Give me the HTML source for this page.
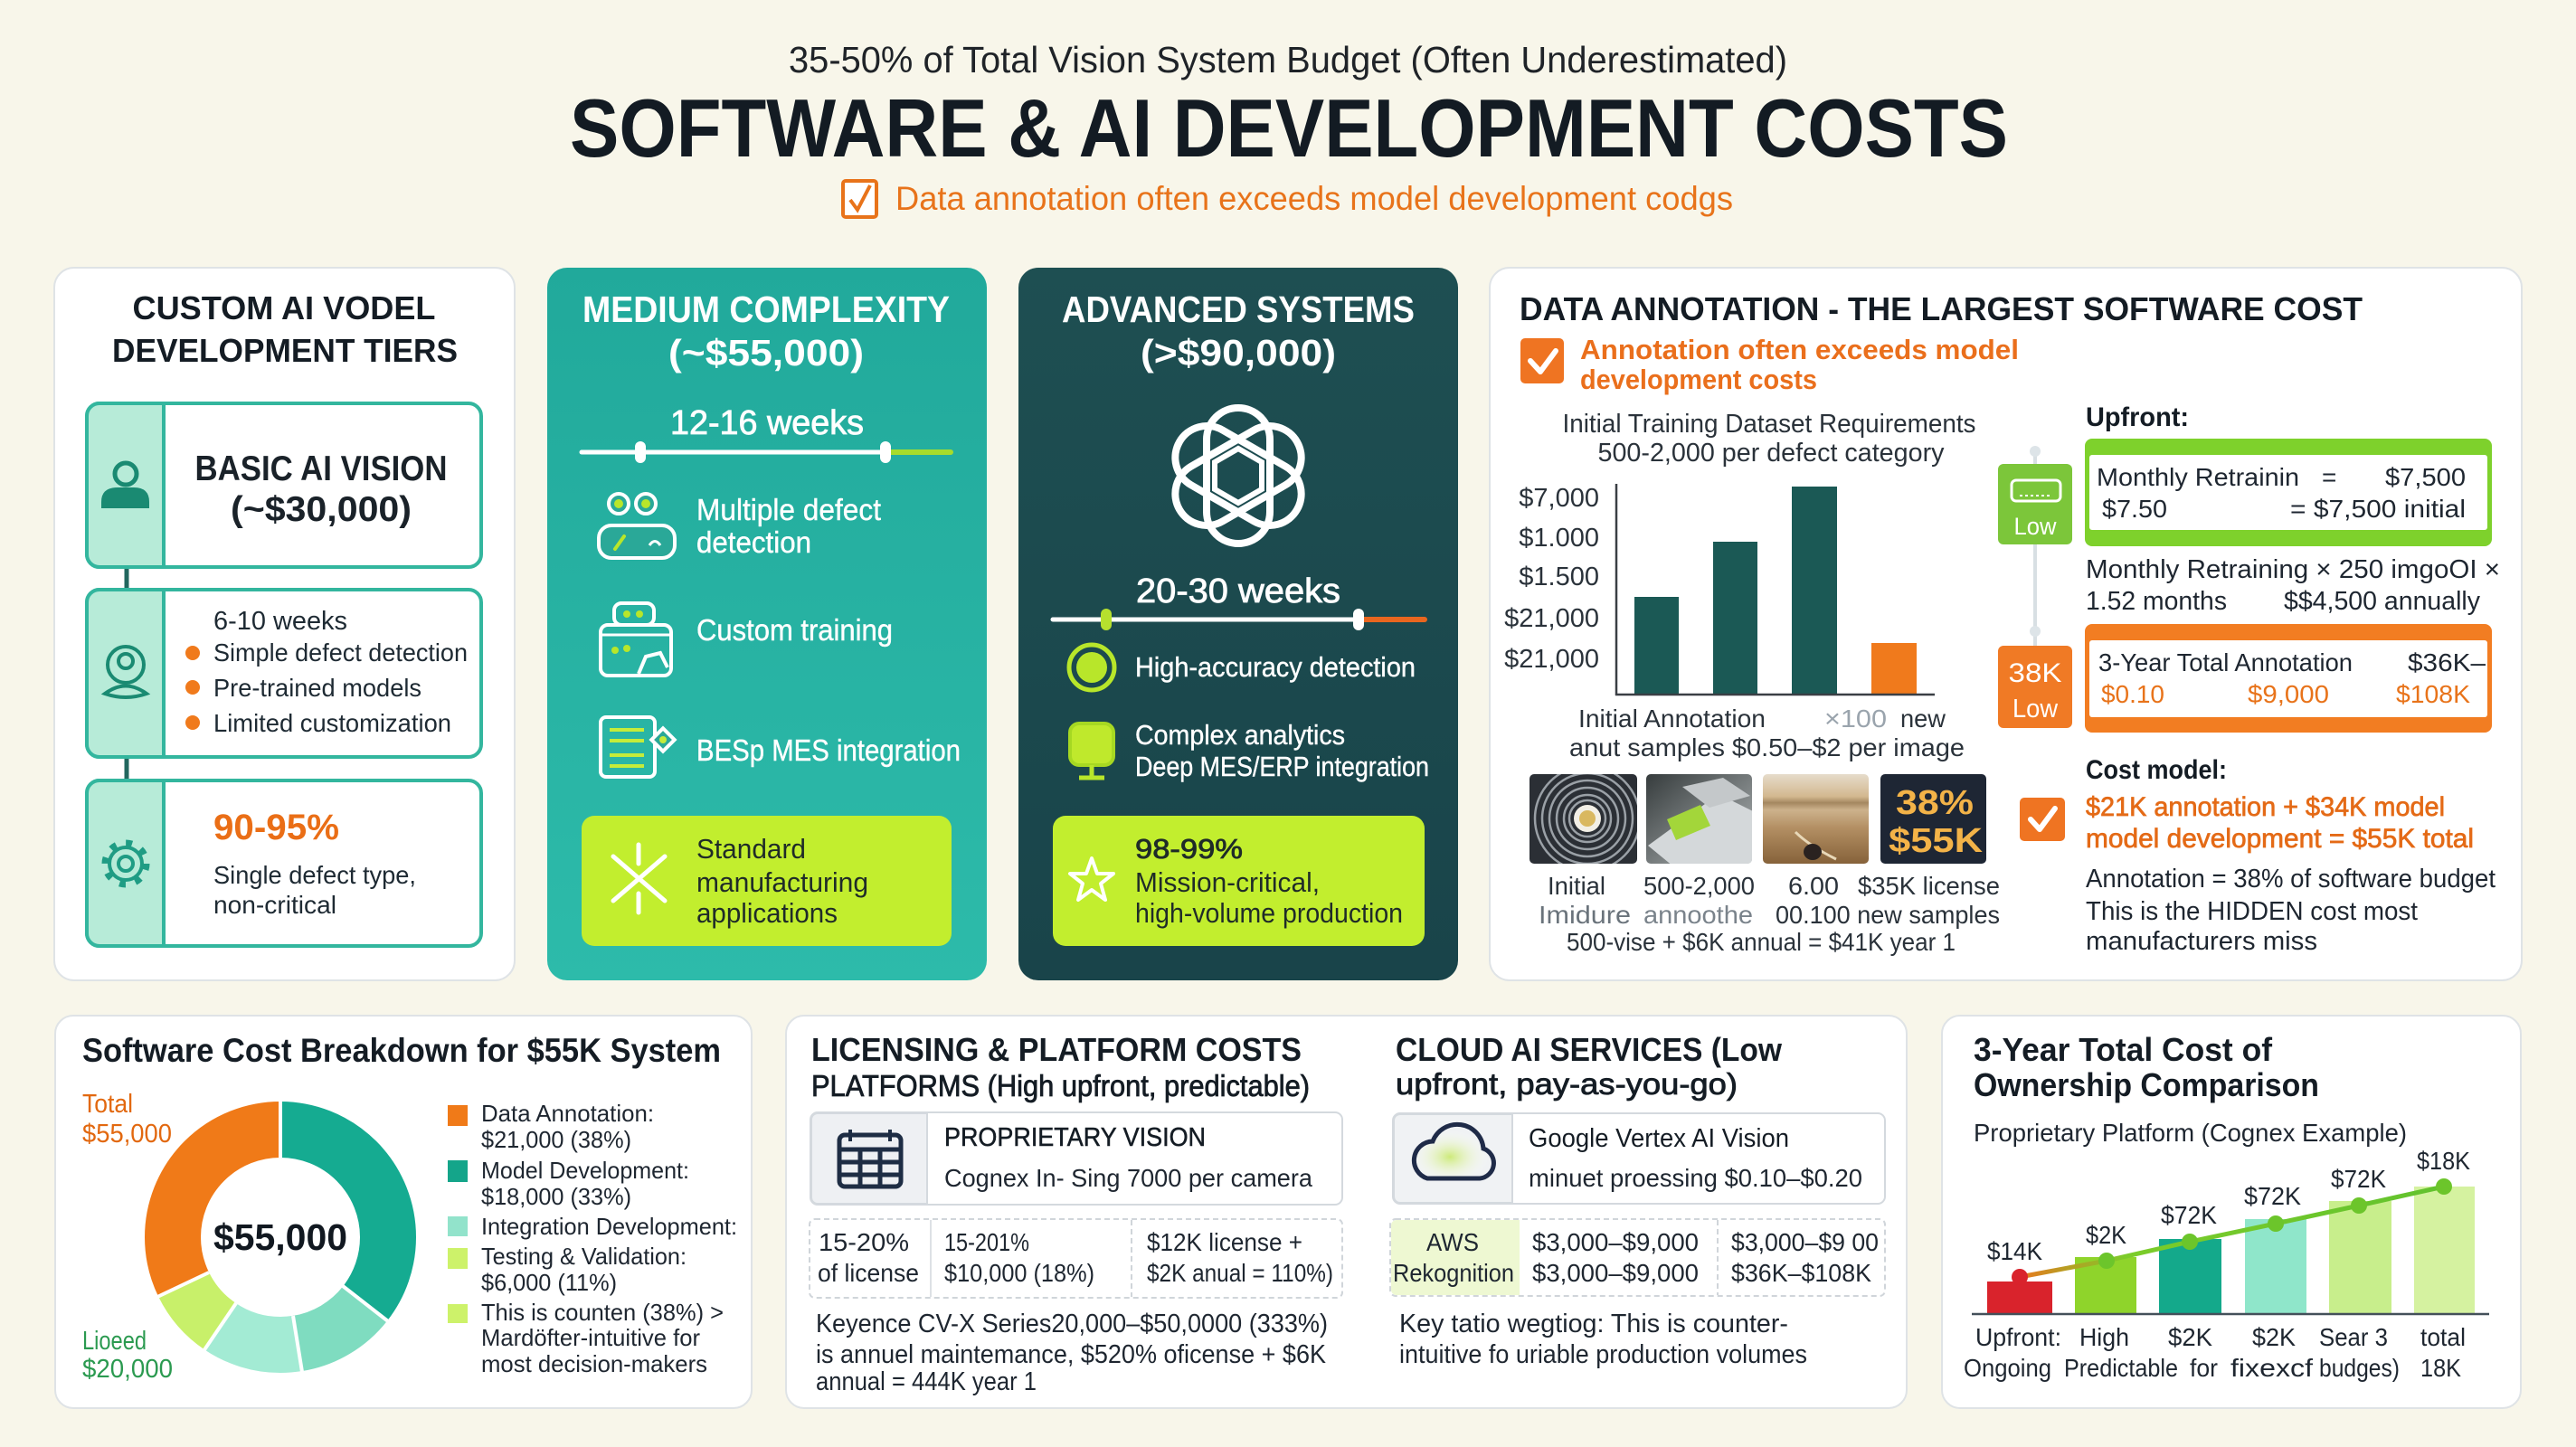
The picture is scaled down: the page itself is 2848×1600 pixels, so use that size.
<!DOCTYPE html>
<html><head><meta charset="utf-8"><style>
html,body{margin:0;padding:0;background:#f8f6ea;}
svg{display:block}
text{font-family:"Liberation Sans","DejaVu Sans",sans-serif;}
.b{font-weight:700}
</style></head><body>
<svg width="2848" height="1600" viewBox="0 0 2848 1600" xmlns="http://www.w3.org/2000/svg">
<defs>
<linearGradient id="g2" x1="0" y1="0" x2="0" y2="1"><stop offset="0" stop-color="#21a99b"/><stop offset="1" stop-color="#2dbbaa"/></linearGradient>
<linearGradient id="g3" x1="0" y1="0" x2="0" y2="1"><stop offset="0" stop-color="#1e4f52"/><stop offset="1" stop-color="#19444a"/></linearGradient>
<linearGradient id="gl" x1="2233" y1="0" x2="2702" y2="0" gradientUnits="userSpaceOnUse"><stop offset="0" stop-color="#e8791e"/><stop offset=".25" stop-color="#7ccc2a"/><stop offset="1" stop-color="#62c22e"/></linearGradient>
<linearGradient id="t2" x1="0" y1="0" x2="1" y2="1"><stop offset="0" stop-color="#363c3d"/><stop offset="1" stop-color="#b4b9ba"/></linearGradient>
<linearGradient id="t3" x1="0" y1="0" x2="0" y2="1"><stop offset="0" stop-color="#e6dccb"/><stop offset=".25" stop-color="#d3b88f"/><stop offset=".32" stop-color="#a48760"/><stop offset=".4" stop-color="#cdb28c"/><stop offset=".6" stop-color="#b38f63"/><stop offset="1" stop-color="#86623a"/></linearGradient>
<radialGradient id="cg" cx=".45" cy=".6" r=".5"><stop offset="0" stop-color="#cdea7a"/><stop offset="1" stop-color="#ffffff" stop-opacity="0"/></radialGradient>
<clipPath id="c1"><rect x="1691" y="856" width="119" height="99" rx="5"/></clipPath>
<clipPath id="c2"><rect x="1820" y="856" width="117" height="99" rx="5"/></clipPath>
<clipPath id="c3"><rect x="1949" y="856" width="117" height="99" rx="5"/></clipPath>
</defs>
<rect width="2848" height="1600" fill="#f8f6ea"/>

<!-- HEADER -->
<text x="1424" y="80" text-anchor="middle" font-size="41" fill="#1f2328" textLength="1104" lengthAdjust="spacingAndGlyphs">35-50% of Total Vision System Budget (Often Underestimated)</text>
<text x="630" y="173" class="b" font-size="91" fill="#131b23" textLength="1590" lengthAdjust="spacingAndGlyphs">SOFTWARE &amp; AI DEVELOPMENT COSTS</text>
<rect x="932" y="200" width="37" height="40" rx="3" fill="#fff" stroke="#e8731a" stroke-width="4"/>
<path d="M940,221 L948,232 L962,205" stroke="#e8731a" stroke-width="4" fill="none"/>
<text x="990" y="232" font-size="37" fill="#e8731a" textLength="926" lengthAdjust="spacingAndGlyphs">Data annotation often exceeds model development codgs</text>

<!-- PANEL 1 -->
<rect x="60" y="296" width="509" height="788" rx="22" fill="#fff" stroke="#dfe3e6" stroke-width="2"/>
<text x="314" y="353" text-anchor="middle" class="b" font-size="36" fill="#141c24" textLength="335" lengthAdjust="spacingAndGlyphs">CUSTOM AI VODEL</text>
<text x="315" y="400" text-anchor="middle" class="b" font-size="36" fill="#141c24" textLength="382" lengthAdjust="spacingAndGlyphs">DEVELOPMENT TIERS</text>
<line x1="140" y1="627" x2="140" y2="652" stroke="#22675f" stroke-width="5"/>
<line x1="140" y1="837" x2="140" y2="863" stroke="#22675f" stroke-width="5"/>
<rect x="96" y="446" width="436" height="181" rx="14" fill="#fff" stroke="#33b69e" stroke-width="4"/>
<path d="M181,446 H110 a14,14 0 0 0 -14,14 V613 a14,14 0 0 0 14,14 H181 Z" fill="#b7ebd8" stroke="#33b69e" stroke-width="4"/>
<rect x="96" y="652" width="436" height="185" rx="14" fill="#fff" stroke="#33b69e" stroke-width="4"/>
<path d="M181,652 H110 a14,14 0 0 0 -14,14 V823 a14,14 0 0 0 14,14 H181 Z" fill="#b7ebd8" stroke="#33b69e" stroke-width="4"/>
<rect x="96" y="863" width="436" height="183" rx="14" fill="#fff" stroke="#33b69e" stroke-width="4"/>
<path d="M181,863 H110 a14,14 0 0 0 -14,14 V1032 a14,14 0 0 0 14,14 H181 Z" fill="#b7ebd8" stroke="#33b69e" stroke-width="4"/>
<!-- icons -->
<circle cx="139" cy="524" r="12" fill="none" stroke="#1a8a72" stroke-width="5"/>
<path d="M112,562 V555 Q112,539 130,539 H148 Q165,539 165,555 V562 Z" fill="#1a8a72"/>
<circle cx="139" cy="735" r="20" fill="none" stroke="#1a8a72" stroke-width="4"/>
<circle cx="139" cy="731" r="8" fill="none" stroke="#1a8a72" stroke-width="4"/>
<path d="M116,767 Q139,750 162,767 Q139,775 116,767 Z" fill="none" stroke="#1a8a72" stroke-width="4"/>
<circle cx="139" cy="955" r="18" fill="none" stroke="#1f9c84" stroke-width="4"/>
<circle cx="139" cy="955" r="23" fill="none" stroke="#1f9c84" stroke-width="7" stroke-dasharray="7 11.06"/>
<circle cx="139" cy="955" r="8" fill="none" stroke="#1f9c84" stroke-width="4"/>
<!-- texts -->
<text x="355" y="531" text-anchor="middle" class="b" font-size="39" fill="#1a2229" textLength="279" lengthAdjust="spacingAndGlyphs">BASIC AI VISION</text>
<text x="355" y="576" text-anchor="middle" class="b" font-size="39" fill="#1a2229" textLength="200" lengthAdjust="spacingAndGlyphs">(~$30,000)</text>
<text x="236" y="696" font-size="29" fill="#1e2a33" textLength="148" lengthAdjust="spacingAndGlyphs">6-10 weeks</text>
<circle cx="213" cy="722" r="8" fill="#f07a1c"/><circle cx="213" cy="760" r="8" fill="#f07a1c"/><circle cx="213" cy="799" r="8" fill="#f07a1c"/>
<text x="236" y="731" font-size="28" fill="#1e2a33" textLength="281" lengthAdjust="spacingAndGlyphs">Simple defect detection</text>
<text x="236" y="770" font-size="28" fill="#1e2a33" textLength="230" lengthAdjust="spacingAndGlyphs">Pre-trained models</text>
<text x="236" y="809" font-size="28" fill="#1e2a33" textLength="263" lengthAdjust="spacingAndGlyphs">Limited customization</text>
<text x="236" y="928" class="b" font-size="40" fill="#ea6e16" textLength="139" lengthAdjust="spacingAndGlyphs">90-95%</text>
<text x="236" y="977" font-size="28" fill="#1e2a33" textLength="224" lengthAdjust="spacingAndGlyphs">Single defect type,</text>
<text x="236" y="1010" font-size="28" fill="#1e2a33" textLength="136" lengthAdjust="spacingAndGlyphs">non-critical</text>

<!-- PANEL 2 -->
<rect x="605" y="296" width="486" height="788" rx="22" fill="url(#g2)"/>
<text x="847" y="356" text-anchor="middle" class="b" font-size="41" fill="#fff" textLength="406" lengthAdjust="spacingAndGlyphs">MEDIUM COMPLEXITY</text>
<text x="847" y="404" text-anchor="middle" class="b" font-size="41" fill="#fff" textLength="216" lengthAdjust="spacingAndGlyphs">(~$55,000)</text>
<text x="848" y="480" text-anchor="middle" font-size="38" fill="#fff" stroke="#fff" stroke-width=".8" textLength="214" lengthAdjust="spacingAndGlyphs">12-16 weeks</text>
<line x1="643" y1="500" x2="979" y2="500" stroke="#fff" stroke-width="5" stroke-linecap="round"/>
<line x1="979" y1="500" x2="1051" y2="500" stroke="#a6dc2c" stroke-width="6" stroke-linecap="round"/>
<rect x="702" y="488" width="12" height="24" rx="6" fill="#fff"/>
<rect x="973" y="488" width="12" height="24" rx="6" fill="#fff"/>
<!-- icons p2 -->
<circle cx="684" cy="557" r="11" fill="#2aa898" stroke="#fff" stroke-width="4"/><circle cx="684" cy="557" r="5" fill="#b8e62a"/>
<circle cx="714" cy="557" r="11" fill="#2aa898" stroke="#fff" stroke-width="4"/><circle cx="714" cy="557" r="5" fill="#b8e62a"/>
<rect x="662" y="581" width="84" height="36" rx="14" fill="#2aa898" stroke="#fff" stroke-width="4"/>
<line x1="680" y1="607" x2="690" y2="593" stroke="#b8e62a" stroke-width="4" stroke-linecap="round"/>
<path d="M718,603 Q724,594 730,603" fill="none" stroke="#fff" stroke-width="3"/>
<rect x="679" y="667" width="44" height="24" rx="8" fill="none" stroke="#fff" stroke-width="4"/>
<circle cx="693" cy="679" r="4" fill="#b8e62a"/><circle cx="707" cy="679" r="4" fill="#b8e62a"/>
<rect x="664" y="691" width="78" height="56" rx="8" fill="none" stroke="#fff" stroke-width="4"/>
<line x1="664" y1="702" x2="742" y2="702" stroke="#fff" stroke-width="3"/>
<circle cx="680" cy="719" r="4" fill="#b8e62a"/><circle cx="693" cy="717" r="4" fill="#b8e62a"/>
<path d="M706,745 L714,726 L730,722 L738,738" fill="none" stroke="#fff" stroke-width="4"/>
<rect x="664" y="793" width="60" height="66" rx="6" fill="none" stroke="#fff" stroke-width="4"/>
<line x1="674" y1="807" x2="712" y2="807" stroke="#c5ec3a" stroke-width="4"/>
<line x1="674" y1="819" x2="712" y2="819" stroke="#c5ec3a" stroke-width="4"/>
<line x1="674" y1="835" x2="712" y2="835" stroke="#c5ec3a" stroke-width="4"/>
<line x1="674" y1="847" x2="712" y2="847" stroke="#c5ec3a" stroke-width="4"/>
<rect x="724" y="809" width="18" height="18" fill="#2aa898" stroke="#fff" stroke-width="4" transform="rotate(45 733 818)"/>
<circle cx="733" cy="818" r="4" fill="#c5ec3a"/>
<text x="770" y="575" font-size="33" fill="#fff" stroke="#fff" stroke-width=".4" textLength="204" lengthAdjust="spacingAndGlyphs">Multiple defect</text>
<text x="770" y="611" font-size="33" fill="#fff" stroke="#fff" stroke-width=".4" textLength="127" lengthAdjust="spacingAndGlyphs">detection</text>
<text x="770" y="708" font-size="33" fill="#fff" stroke="#fff" stroke-width=".4" textLength="217" lengthAdjust="spacingAndGlyphs">Custom training</text>
<text x="770" y="841" font-size="33" fill="#fff" stroke="#fff" stroke-width=".4" textLength="292" lengthAdjust="spacingAndGlyphs">BESp MES integration</text>
<rect x="643" y="902" width="409" height="144" rx="14" fill="#c2ee2e"/>
<g stroke="#fff" stroke-width="5" stroke-linecap="round" fill="none">
<line x1="678" y1="947" x2="735" y2="996"/><line x1="735" y1="947" x2="678" y2="996"/>
<line x1="706" y1="934" x2="706" y2="955"/><line x1="706" y1="988" x2="706" y2="1009"/></g>
<text x="770" y="949" font-size="31" fill="#1f2b28" textLength="121" lengthAdjust="spacingAndGlyphs">Standard</text>
<text x="770" y="986" font-size="31" fill="#1f2b28" textLength="190" lengthAdjust="spacingAndGlyphs">manufacturing</text>
<text x="770" y="1020" font-size="31" fill="#1f2b28" textLength="156" lengthAdjust="spacingAndGlyphs">applications</text>

<!-- PANEL 3 -->
<rect x="1126" y="296" width="486" height="788" rx="22" fill="url(#g3)"/>
<text x="1369" y="356" text-anchor="middle" class="b" font-size="41" fill="#fff" textLength="390" lengthAdjust="spacingAndGlyphs">ADVANCED SYSTEMS</text>
<text x="1369" y="404" text-anchor="middle" class="b" font-size="41" fill="#fff" textLength="216" lengthAdjust="spacingAndGlyphs">(&gt;$90,000)</text>
<g fill="none" stroke="#fff" stroke-width="8">
<rect x="1334" y="451" width="70" height="150" rx="35"/>
<rect x="1334" y="451" width="70" height="150" rx="35" transform="rotate(60 1369 526)"/>
<rect x="1334" y="451" width="70" height="150" rx="35" transform="rotate(120 1369 526)"/>
<polygon points="1369,496 1395,511 1395,541 1369,556 1343,541 1343,511" stroke-width="6"/>
</g>
<text x="1369" y="666" text-anchor="middle" font-size="38" fill="#fff" stroke="#fff" stroke-width=".8" textLength="226" lengthAdjust="spacingAndGlyphs">20-30 weeks</text>
<line x1="1164" y1="685" x2="1502" y2="685" stroke="#fff" stroke-width="5" stroke-linecap="round"/>
<line x1="1502" y1="685" x2="1575" y2="685" stroke="#e9661f" stroke-width="6" stroke-linecap="round"/>
<rect x="1217" y="673" width="12" height="24" rx="6" fill="#b6e02e"/>
<rect x="1496" y="673" width="12" height="24" rx="6" fill="#fff"/>
<circle cx="1207" cy="738" r="25" fill="none" stroke="#b8e62a" stroke-width="5"/>
<circle cx="1207" cy="738" r="17" fill="#b8e62a"/>
<rect x="1183" y="800" width="48" height="46" rx="10" fill="#bfe92c" stroke="#a6d822" stroke-width="4"/>
<line x1="1207" y1="846" x2="1207" y2="858" stroke="#b8e62a" stroke-width="5"/>
<line x1="1193" y1="860" x2="1221" y2="860" stroke="#b8e62a" stroke-width="5"/>
<text x="1255" y="748" font-size="31" fill="#fff" stroke="#fff" stroke-width=".4" textLength="310" lengthAdjust="spacingAndGlyphs">High-accuracy detection</text>
<text x="1255" y="823" font-size="31" fill="#fff" stroke="#fff" stroke-width=".4" textLength="232" lengthAdjust="spacingAndGlyphs">Complex analytics</text>
<text x="1255" y="858" font-size="31" fill="#fff" stroke="#fff" stroke-width=".4" textLength="325" lengthAdjust="spacingAndGlyphs">Deep MES/ERP integration</text>
<rect x="1164" y="902" width="411" height="144" rx="14" fill="#c2ee2e"/>
<polygon points="1207,949 1213,966 1231,966 1217,977 1222,995 1207,984 1192,995 1197,977 1183,966 1201,966" fill="none" stroke="#fff" stroke-width="4" stroke-linejoin="round"/>
<text x="1255" y="949" font-size="31" fill="#1f2b28" stroke="#1f2b28" stroke-width=".8" textLength="119" lengthAdjust="spacingAndGlyphs">98-99%</text>
<text x="1255" y="986" font-size="31" fill="#1f2b28" textLength="204" lengthAdjust="spacingAndGlyphs">Mission-critical,</text>
<text x="1255" y="1020" font-size="31" fill="#1f2b28" textLength="296" lengthAdjust="spacingAndGlyphs">high-volume production</text>

<!-- PANEL 4 -->
<rect x="1647" y="296" width="1141" height="788" rx="22" fill="#fff" stroke="#dfe3e6" stroke-width="2"/>
<text x="1680" y="354" class="b" font-size="36" fill="#141c24" textLength="932" lengthAdjust="spacingAndGlyphs">DATA ANNOTATION - THE LARGEST SOFTWARE COST</text>
<rect x="1681" y="374" width="48" height="50" rx="5" fill="#ef7422"/>
<path d="M1692,399 L1703,411 L1720,388" fill="none" stroke="#fff" stroke-width="6" stroke-linecap="round" stroke-linejoin="round"/>
<text x="1747" y="397" class="b" font-size="31" fill="#ea6f1c" textLength="485" lengthAdjust="spacingAndGlyphs">Annotation often exceeds model</text>
<text x="1747" y="430" class="b" font-size="31" fill="#ea6f1c" textLength="262" lengthAdjust="spacingAndGlyphs">development costs</text>
<text x="1956" y="478" text-anchor="middle" font-size="29" fill="#2a323a" textLength="457" lengthAdjust="spacingAndGlyphs">Initial Training Dataset Requirements</text>
<text x="1958" y="510" text-anchor="middle" font-size="29" fill="#2a323a" textLength="383" lengthAdjust="spacingAndGlyphs">500-2,000 per defect category</text>
<g font-size="29" fill="#2a323a" text-anchor="end">
<text x="1768" y="560">$7,000</text><text x="1768" y="604">$1.000</text><text x="1768" y="647">$1.500</text><text x="1768" y="693">$21,000</text><text x="1768" y="738">$21,000</text></g>
<rect x="1807" y="660" width="49" height="108" fill="#1b5955"/>
<rect x="1894" y="599" width="49" height="169" fill="#1b5955"/>
<rect x="1981" y="538" width="50" height="230" fill="#1b5955"/>
<rect x="2069" y="711" width="50" height="57" fill="#f07a1c"/>
<line x1="1787" y1="535" x2="1787" y2="769" stroke="#3a3f44" stroke-width="2.5"/>
<line x1="1786" y1="768" x2="2139" y2="768" stroke="#3a3f44" stroke-width="2.5"/>
<text x="1745" y="804" font-size="28" fill="#2a323a" textLength="207" lengthAdjust="spacingAndGlyphs">Initial Annotation</text>
<text x="2017" y="804" font-size="28" fill="#9aa4ad" textLength="69" lengthAdjust="spacingAndGlyphs">×100</text>
<text x="2101" y="804" font-size="28" fill="#2a323a" textLength="50" lengthAdjust="spacingAndGlyphs">new</text>
<text x="1735" y="836" font-size="28" fill="#2a323a" textLength="437" lengthAdjust="spacingAndGlyphs">anut samples $0.50–$2 per image</text>
<!-- tiles -->
<g clip-path="url(#c1)"><rect x="1691" y="856" width="119" height="99" fill="#2b2f35"/>
<g fill="none" stroke="#9aa0a6" stroke-width="2.5"><circle cx="1755" cy="905" r="58"/><circle cx="1755" cy="905" r="50"/><circle cx="1755" cy="905" r="42"/><circle cx="1755" cy="905" r="34"/><circle cx="1755" cy="905" r="26"/><circle cx="1755" cy="905" r="20"/></g>
<circle cx="1755" cy="905" r="15" fill="#f2efe6"/><circle cx="1755" cy="905" r="9" fill="#d9b860"/></g>
<g clip-path="url(#c2)"><rect x="1820" y="856" width="117" height="99" fill="url(#t2)"/>
<polygon points="1822,935 1900,878 1940,898 1940,958 1850,958" fill="#d4d8da"/>
<polygon points="1860,870 1905,860 1935,880 1890,893" fill="#c4c8ca"/>
<polygon points="1843,906 1880,890 1891,913 1853,929" fill="#a3d63a"/></g>
<g clip-path="url(#c3)"><rect x="1949" y="856" width="117" height="99" fill="url(#t3)"/>
<path d="M1985,920 Q2000,935 2030,950" stroke="#e8d8b8" stroke-width="3" fill="none"/>
<ellipse cx="2004" cy="942" rx="10" ry="9" fill="#2a2220"/></g>
<rect x="2079" y="856" width="117" height="99" rx="5" fill="#1e2634"/>
<text x="2139" y="900" text-anchor="middle" class="b" font-size="38" fill="#f3b348" textLength="86" lengthAdjust="spacingAndGlyphs">38%</text>
<text x="2140" y="942" text-anchor="middle" class="b" font-size="38" fill="#f3b348" textLength="104" lengthAdjust="spacingAndGlyphs">$55K</text>
<g font-size="28" fill="#2a323a">
<text x="1711" y="989" textLength="64" lengthAdjust="spacingAndGlyphs">Initial</text>
<text x="1817" y="989" textLength="123" lengthAdjust="spacingAndGlyphs">500-2,000</text>
<text x="1977" y="989" textLength="56" lengthAdjust="spacingAndGlyphs">6.00</text>
<text x="2054" y="989" textLength="157" lengthAdjust="spacingAndGlyphs">$35K license</text>
<text x="1701" y="1021" fill="#6a737b" textLength="102" lengthAdjust="spacingAndGlyphs">Imidure</text>
<text x="1817" y="1021" fill="#7a838b" textLength="121" lengthAdjust="spacingAndGlyphs">annoothe</text>
<text x="1963" y="1021" textLength="248" lengthAdjust="spacingAndGlyphs">00.100 new samples</text>
<text x="1732" y="1051" textLength="430" lengthAdjust="spacingAndGlyphs">500-vise + $6K annual = $41K year 1</text></g>
<!-- right part -->
<text x="2306" y="471" class="b" font-size="30" fill="#141c24" textLength="114" lengthAdjust="spacingAndGlyphs">Upfront:</text>
<line x1="2250" y1="494" x2="2250" y2="714" stroke="#d8dfe3" stroke-width="4"/>
<circle cx="2250" cy="499" r="6" fill="#dde4e8"/><circle cx="2250" cy="698" r="6" fill="#dde4e8"/>
<rect x="2209" y="513" width="82" height="89" rx="6" fill="#7cc63a"/>
<rect x="2224" y="531" width="54" height="23" rx="5" fill="none" stroke="#fff" stroke-width="3"/>
<line x1="2233" y1="548" x2="2268" y2="548" stroke="#fff" stroke-width="2" stroke-dasharray="3 3"/>
<text x="2250" y="591" text-anchor="middle" font-size="27" fill="#fff" textLength="47" lengthAdjust="spacingAndGlyphs">Low</text>
<rect x="2209" y="714" width="82" height="91" rx="6" fill="#f07a25"/>
<text x="2250" y="754" text-anchor="middle" font-size="30" fill="#fff" textLength="59" lengthAdjust="spacingAndGlyphs">38K</text>
<text x="2250" y="793" text-anchor="middle" font-size="29" fill="#fff" textLength="50" lengthAdjust="spacingAndGlyphs">Low</text>
<rect x="2305" y="485" width="450" height="119" rx="8" fill="#7ed12c"/>
<rect x="2310" y="503" width="440" height="83" rx="3" fill="#fff"/>
<g font-size="28" fill="#1e2630">
<text x="2318" y="537" textLength="224" lengthAdjust="spacingAndGlyphs">Monthly Retrainin</text>
<text x="2567" y="537">=</text>
<text x="2637" y="537" textLength="89" lengthAdjust="spacingAndGlyphs">$7,500</text>
<text x="2324" y="572" textLength="72" lengthAdjust="spacingAndGlyphs">$7.50</text>
<text x="2532" y="572" textLength="194" lengthAdjust="spacingAndGlyphs">= $7,500 initial</text></g>
<text x="2306" y="639" font-size="29" fill="#1e2630" textLength="458" lengthAdjust="spacingAndGlyphs">Monthly Retraining × 250 imgoOI ×</text>
<text x="2306" y="674" font-size="29" fill="#1e2630" textLength="156" lengthAdjust="spacingAndGlyphs">1.52 months</text>
<text x="2525" y="674" font-size="29" fill="#1e2630" textLength="217" lengthAdjust="spacingAndGlyphs">$$4,500 annually</text>
<rect x="2305" y="690" width="450" height="120" rx="8" fill="#f27d22"/>
<rect x="2310" y="708" width="440" height="85" rx="3" fill="#fff"/>
<g font-size="28">
<text x="2320" y="742" fill="#1e2630" textLength="281" lengthAdjust="spacingAndGlyphs">3-Year Total Annotation</text>
<text x="2662" y="742" fill="#1e2630" textLength="86" lengthAdjust="spacingAndGlyphs">$36K–</text>
<text x="2323" y="777" fill="#e8731a" textLength="70" lengthAdjust="spacingAndGlyphs">$0.10</text>
<text x="2485" y="777" fill="#e8731a" textLength="90" lengthAdjust="spacingAndGlyphs">$9,000</text>
<text x="2649" y="777" fill="#e8731a" textLength="82" lengthAdjust="spacingAndGlyphs">$108K</text></g>
<text x="2306" y="861" class="b" font-size="30" fill="#141c24" textLength="156" lengthAdjust="spacingAndGlyphs">Cost model:</text>
<rect x="2233" y="882" width="50" height="48" rx="5" fill="#ef7422"/>
<path d="M2245,906 L2255,917 L2272,894" fill="none" stroke="#fff" stroke-width="6" stroke-linecap="round" stroke-linejoin="round"/>
<text x="2306" y="902" font-size="30" fill="#e46a16" stroke="#e46a16" stroke-width=".7" textLength="397" lengthAdjust="spacingAndGlyphs">$21K annotation + $34K model</text>
<text x="2306" y="937" font-size="30" fill="#e46a16" stroke="#e46a16" stroke-width=".7" textLength="429" lengthAdjust="spacingAndGlyphs">model development = $55K total</text>
<text x="2306" y="981" font-size="29" fill="#1e2630" textLength="453" lengthAdjust="spacingAndGlyphs">Annotation = 38% of software budget</text>
<text x="2306" y="1017" font-size="29" fill="#1e2630" textLength="367" lengthAdjust="spacingAndGlyphs">This is the HIDDEN cost most</text>
<text x="2306" y="1050" font-size="29" fill="#1e2630" textLength="256" lengthAdjust="spacingAndGlyphs">manufacturers miss</text>

<!-- BOTTOM 1 -->
<rect x="61" y="1123" width="770" height="434" rx="20" fill="#fff" stroke="#dfe3e6" stroke-width="2"/>
<text x="91" y="1174" class="b" font-size="37" fill="#141c24" textLength="706" lengthAdjust="spacingAndGlyphs">Software Cost Breakdown for $55K System</text>
<text x="91" y="1230" font-size="29" fill="#e2680f" textLength="56" lengthAdjust="spacingAndGlyphs">Total</text>
<text x="91" y="1263" font-size="29" fill="#e2680f" textLength="99" lengthAdjust="spacingAndGlyphs">$55,000</text>
<text x="91" y="1492" font-size="29" fill="#2b9a50" textLength="71" lengthAdjust="spacingAndGlyphs">Lioeed</text>
<text x="91" y="1523" font-size="29" fill="#2b9a50" textLength="100" lengthAdjust="spacingAndGlyphs">$20,000</text>
<g transform="rotate(-90 310 1368)" fill="none" stroke-width="62">
<circle cx="310" cy="1368" r="119" pathLength="360" stroke="#15ab91" stroke-dasharray="128 360" stroke-dashoffset="0"/>
<circle cx="310" cy="1368" r="119" pathLength="360" stroke="#7fdcc0" stroke-dasharray="43 360" stroke-dashoffset="-128"/>
<circle cx="310" cy="1368" r="119" pathLength="360" stroke="#a3ebd4" stroke-dasharray="43 360" stroke-dashoffset="-171"/>
<circle cx="310" cy="1368" r="119" pathLength="360" stroke="#c8f06a" stroke-dasharray="30 360" stroke-dashoffset="-214"/>
<circle cx="310" cy="1368" r="119" pathLength="360" stroke="#f07a18" stroke-dasharray="116 360" stroke-dashoffset="-244"/>
</g>
<g stroke="#fff" stroke-width="4">
<line x1="310" y1="1280" x2="310" y2="1216"/>
<line x1="379" y1="1422" x2="429" y2="1461"/>
<line x1="324" y1="1455" x2="334" y2="1517"/>
<line x1="261" y1="1441" x2="225" y2="1494"/>
<line x1="231" y1="1407" x2="174" y2="1434"/></g>
<text x="310" y="1382" text-anchor="middle" class="b" font-size="41" fill="#111820" textLength="148" lengthAdjust="spacingAndGlyphs">$55,000</text>
<rect x="495" y="1222" width="22" height="23" fill="#f07a18"/>
<rect x="495" y="1283" width="22" height="24" fill="#14a58a"/>
<rect x="495" y="1345" width="22" height="22" fill="#92e3cb"/>
<rect x="495" y="1380" width="22" height="23" fill="#cdf26a"/>
<rect x="495" y="1442" width="22" height="21" fill="#cdf26a"/>
<g font-size="26" fill="#1e2630">
<text x="532" y="1240" textLength="191" lengthAdjust="spacingAndGlyphs">Data Annotation:</text>
<text x="532" y="1269" textLength="166" lengthAdjust="spacingAndGlyphs">$21,000 (38%)</text>
<text x="532" y="1303" textLength="230" lengthAdjust="spacingAndGlyphs">Model Development:</text>
<text x="532" y="1332" textLength="166" lengthAdjust="spacingAndGlyphs">$18,000 (33%)</text>
<text x="532" y="1365" textLength="283" lengthAdjust="spacingAndGlyphs">Integration Development:</text>
<text x="532" y="1398" textLength="227" lengthAdjust="spacingAndGlyphs">Testing &amp; Validation:</text>
<text x="532" y="1427" textLength="150" lengthAdjust="spacingAndGlyphs">$6,000 (11%)</text>
<text x="532" y="1460" textLength="268" lengthAdjust="spacingAndGlyphs">This is counten (38%) &gt;</text>
<text x="532" y="1488" textLength="242" lengthAdjust="spacingAndGlyphs">Mardöfter-intuitive for</text>
<text x="532" y="1517" textLength="250" lengthAdjust="spacingAndGlyphs">most decision-makers</text></g>

<!-- BOTTOM 2 -->
<rect x="869" y="1123" width="1239" height="434" rx="20" fill="#fff" stroke="#dfe3e6" stroke-width="2"/>
<text x="897" y="1173" class="b" font-size="36" fill="#141c24" textLength="542" lengthAdjust="spacingAndGlyphs">LICENSING &amp; PLATFORM COSTS</text>
<text x="897" y="1212" font-size="33" fill="#141c24" stroke="#141c24" stroke-width=".8" textLength="551" lengthAdjust="spacingAndGlyphs">PLATFORMS (High upfront, predictable)</text>
<rect x="896" y="1230" width="588" height="102" rx="8" fill="#fff" stroke="#d4d9de" stroke-width="2"/>
<path d="M1025,1231 H904 a7,7 0 0 0 -7,7 V1324 a7,7 0 0 0 7,7 H1025 Z" fill="#eef0f3" stroke="#d4d9de" stroke-width="2"/>
<g fill="none" stroke="#1e2d44" stroke-width="5">
<rect x="928" y="1255" width="68" height="57" rx="6"/>
<line x1="928" y1="1271" x2="996" y2="1271"/><line x1="928" y1="1285" x2="996" y2="1285"/><line x1="928" y1="1299" x2="996" y2="1299"/>
<line x1="951" y1="1271" x2="951" y2="1312"/><line x1="973" y1="1271" x2="973" y2="1312"/>
<line x1="940" y1="1249" x2="940" y2="1262" stroke-width="4"/><line x1="984" y1="1249" x2="984" y2="1262" stroke-width="4"/></g>
<text x="1044" y="1267" font-size="29" fill="#141c24" stroke="#141c24" stroke-width=".5" textLength="289" lengthAdjust="spacingAndGlyphs">PROPRIETARY VISION</text>
<text x="1044" y="1312" font-size="28" fill="#1e2630" textLength="407" lengthAdjust="spacingAndGlyphs">Cognex In-  Sing 7000 per camera</text>
<rect x="895" y="1348" width="589" height="87" rx="6" fill="#fff" stroke="#d0d5da" stroke-width="2" stroke-dasharray="6 4"/>
<line x1="1029" y1="1349" x2="1029" y2="1434" stroke="#dde1e5" stroke-width="2"/>
<line x1="1251" y1="1349" x2="1251" y2="1434" stroke="#d0d5da" stroke-width="2" stroke-dasharray="6 4"/>
<g font-size="28" fill="#1e2630">
<text x="955" y="1383" text-anchor="middle" textLength="100" lengthAdjust="spacingAndGlyphs">15-20%</text>
<text x="960" y="1417" text-anchor="middle" textLength="112" lengthAdjust="spacingAndGlyphs">of license</text>
<text x="1044" y="1383" textLength="94" lengthAdjust="spacingAndGlyphs">15-201%</text>
<text x="1044" y="1417" textLength="166" lengthAdjust="spacingAndGlyphs">$10,000 (18%)</text>
<text x="1268" y="1383" textLength="172" lengthAdjust="spacingAndGlyphs">$12K license +</text>
<text x="1268" y="1417" textLength="206" lengthAdjust="spacingAndGlyphs">$2K anual = 110%)</text>
<text x="902" y="1473" font-size="29" textLength="566" lengthAdjust="spacingAndGlyphs">Keyence CV-X Series20,000–$50,0000 (333%)</text>
<text x="902" y="1507" font-size="29" textLength="564" lengthAdjust="spacingAndGlyphs">is annuel maintemance, $520% oficense + $6K</text>
<text x="902" y="1537" font-size="29" textLength="244" lengthAdjust="spacingAndGlyphs">annual = 444K year 1</text></g>
<!-- cloud -->
<text x="1543" y="1173" class="b" font-size="36" fill="#141c24" textLength="427" lengthAdjust="spacingAndGlyphs">CLOUD AI SERVICES (Low</text>
<text x="1543" y="1210" font-size="33" fill="#141c24" stroke="#141c24" stroke-width=".8" textLength="378" lengthAdjust="spacingAndGlyphs">upfront, pay-as-you-go)</text>
<rect x="1540" y="1231" width="544" height="100" rx="8" fill="#fff" stroke="#d4d9de" stroke-width="2"/>
<path d="M1672,1232 H1548 a7,7 0 0 0 -7,7 V1323 a7,7 0 0 0 7,7 H1672 Z" fill="#f0f2f4" stroke="#d4d9de" stroke-width="2"/>
<path d="M1578,1303 H1636 A17,17 0 0 0 1640,1270 A29,29 0 0 0 1584,1262 A21,21 0 0 0 1578,1303 Z" fill="url(#cg)" stroke="#1f2b48" stroke-width="5"/>
<text x="1690" y="1268" font-size="29" fill="#141c24" textLength="288" lengthAdjust="spacingAndGlyphs">Google Vertex AI Vision</text>
<text x="1690" y="1312" font-size="28" fill="#1e2630" textLength="369" lengthAdjust="spacingAndGlyphs">minuet proessing  $0.10–$0.20</text>
<rect x="1537" y="1348" width="547" height="85" rx="6" fill="#fff" stroke="#d0d5da" stroke-width="2" stroke-dasharray="6 4"/>
<path d="M1680,1349 H1544 a6,6 0 0 0 -6,6 V1426 a6,6 0 0 0 6,6 H1680 Z" fill="#eef8d2"/>
<line x1="1899" y1="1349" x2="1899" y2="1432" stroke="#d0d5da" stroke-width="2" stroke-dasharray="6 4"/>
<g font-size="28" fill="#1e2630">
<text x="1606" y="1383" text-anchor="middle" textLength="58" lengthAdjust="spacingAndGlyphs">AWS</text>
<text x="1607" y="1417" text-anchor="middle" textLength="134" lengthAdjust="spacingAndGlyphs">Rekognition</text>
<text x="1694" y="1383" textLength="184" lengthAdjust="spacingAndGlyphs">$3,000–$9,000</text>
<text x="1694" y="1417" textLength="184" lengthAdjust="spacingAndGlyphs">$3,000–$9,000</text>
<text x="1914" y="1383" textLength="163" lengthAdjust="spacingAndGlyphs">$3,000–$9 00</text>
<text x="1914" y="1417" textLength="155" lengthAdjust="spacingAndGlyphs">$36K–$108K</text>
<text x="1547" y="1473" font-size="29" textLength="430" lengthAdjust="spacingAndGlyphs">Key tatio  wegtiog: This is counter-</text>
<text x="1547" y="1507" font-size="29" textLength="451" lengthAdjust="spacingAndGlyphs">intuitive fo uriable production volumes</text></g>

<!-- BOTTOM 3 -->
<rect x="2147" y="1123" width="640" height="434" rx="20" fill="#fff" stroke="#dfe3e6" stroke-width="2"/>
<text x="2182" y="1173" class="b" font-size="36" fill="#141c24" textLength="330" lengthAdjust="spacingAndGlyphs">3-Year Total Cost of</text>
<text x="2182" y="1212" class="b" font-size="36" fill="#141c24" textLength="382" lengthAdjust="spacingAndGlyphs">Ownership Comparison</text>
<text x="2182" y="1262" font-size="28" fill="#1e2630" textLength="479" lengthAdjust="spacingAndGlyphs">Proprietary Platform (Cognex Example)</text>
<rect x="2197" y="1417" width="72" height="36" fill="#d9232c"/>
<rect x="2294" y="1390" width="68" height="63" fill="#8fd42b"/>
<rect x="2387" y="1370" width="69" height="83" fill="#14a98b"/>
<rect x="2482" y="1348" width="68" height="105" fill="#8fe6ca"/>
<rect x="2575" y="1328" width="69" height="125" fill="#c8ee8c"/>
<rect x="2669" y="1312" width="67" height="141" fill="#d5f2a0"/>
<line x1="2180" y1="1453" x2="2752" y2="1453" stroke="#44505a" stroke-width="2.5"/>
<polyline points="2233,1412 2329,1394 2421,1373 2516,1353 2608,1333 2702,1312" fill="none" stroke="url(#gl)" stroke-width="5"/>
<circle cx="2233" cy="1412" r="9" fill="#d9232c"/>
<g fill="#6cc52b"><circle cx="2329" cy="1394" r="9"/><circle cx="2421" cy="1373" r="9"/><circle cx="2516" cy="1353" r="9"/><circle cx="2608" cy="1333" r="9"/><circle cx="2702" cy="1312" r="9"/></g>
<g font-size="28" fill="#1e2630">
<text x="2197" y="1393" textLength="61" lengthAdjust="spacingAndGlyphs">$14K</text>
<text x="2306" y="1375" textLength="45" lengthAdjust="spacingAndGlyphs">$2K</text>
<text x="2389" y="1353" textLength="62" lengthAdjust="spacingAndGlyphs">$72K</text>
<text x="2481" y="1332" textLength="63" lengthAdjust="spacingAndGlyphs">$72K</text>
<text x="2577" y="1313" textLength="61" lengthAdjust="spacingAndGlyphs">$72K</text>
<text x="2672" y="1293" textLength="59" lengthAdjust="spacingAndGlyphs">$18K</text>
<text x="2184" y="1488" textLength="95" lengthAdjust="spacingAndGlyphs">Upfront:</text>
<text x="2299" y="1488" textLength="55" lengthAdjust="spacingAndGlyphs">High</text>
<text x="2397" y="1488" textLength="49" lengthAdjust="spacingAndGlyphs">$2K</text>
<text x="2490" y="1488" textLength="48" lengthAdjust="spacingAndGlyphs">$2K</text>
<text x="2564" y="1488" textLength="76" lengthAdjust="spacingAndGlyphs">Sear 3</text>
<text x="2676" y="1488" textLength="50" lengthAdjust="spacingAndGlyphs">total</text>
<text x="2171" y="1522" textLength="97" lengthAdjust="spacingAndGlyphs">Ongoing</text>
<text x="2282" y="1522" textLength="126" lengthAdjust="spacingAndGlyphs">Predictable</text>
<text x="2421" y="1522" textLength="31" lengthAdjust="spacingAndGlyphs">for</text>
<text x="2466" y="1522" textLength="91" lengthAdjust="spacingAndGlyphs">fixexcf</text>
<text x="2564" y="1522" textLength="89" lengthAdjust="spacingAndGlyphs">budges)</text>
<text x="2676" y="1522" textLength="45" lengthAdjust="spacingAndGlyphs">18K</text></g>
</svg>
</body></html>
